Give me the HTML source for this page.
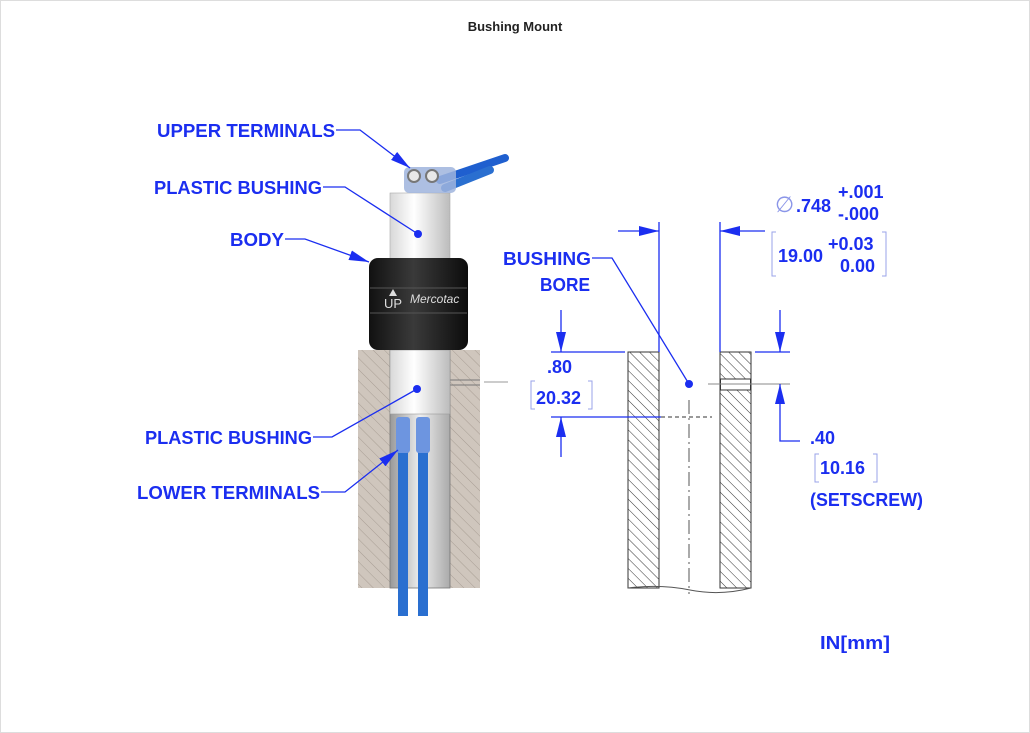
<!DOCTYPE html>
<html><head><meta charset="utf-8"><style>
html,body{margin:0;padding:0;background:#fff}
svg{display:block}
text{font-family:"Liberation Sans",sans-serif;font-weight:bold}
.l{fill:#1b2ef0;font-size:18px}
</style></head><body>
<svg width="1030" height="733" viewBox="0 0 1030 733" xmlns="http://www.w3.org/2000/svg">
<defs>
<pattern id="tan" width="8" height="8" patternUnits="userSpaceOnUse" patternTransform="rotate(-45)">
<rect width="8" height="8" fill="#cfc6bd"/><line x1="0" y1="0" x2="0" y2="8" stroke="#a89e94" stroke-width="1"/></pattern>
<pattern id="hat" width="7" height="7" patternUnits="userSpaceOnUse" patternTransform="rotate(-45)">
<rect width="7" height="7" fill="#fff"/><line x1="0" y1="0" x2="0" y2="7" stroke="#333" stroke-width="1"/></pattern>
<linearGradient id="wh" x1="0" x2="1"><stop offset="0" stop-color="#d8d8d8"/><stop offset=".4" stop-color="#fff"/><stop offset="1" stop-color="#bcbcbc"/></linearGradient>
<linearGradient id="bk" x1="0" x2="1"><stop offset="0" stop-color="#111"/><stop offset=".45" stop-color="#3a3a3a"/><stop offset="1" stop-color="#0c0c0c"/></linearGradient>
<linearGradient id="cav" x1="0" x2="1"><stop offset="0" stop-color="#999"/><stop offset=".5" stop-color="#eee"/><stop offset="1" stop-color="#aaa"/></linearGradient>
<marker id="ar2" markerWidth="20" markerHeight="10" refX="20" refY="5" orient="auto" markerUnits="userSpaceOnUse"><path d="M0,0L20,5L0,10z" fill="#1b2ef0"/></marker>
</defs>
<rect x="0.5" y="0.5" width="1029" height="732" fill="#fff" stroke="#ddd"/>
<text x="515" y="31" text-anchor="middle" style="font-size:13px" fill="#222">Bushing Mount</text>

<rect x="358" y="350" width="122" height="238" fill="url(#tan)"/>
<rect x="390" y="350" width="60" height="238" fill="url(#cav)" stroke="#777" stroke-width="0.8"/>
<line x1="447" y1="380" x2="480" y2="380" stroke="#777"/><line x1="447" y1="385" x2="480" y2="385" stroke="#777"/>
<line x1="484" y1="382" x2="508" y2="382" stroke="#999"/>
<rect x="398" y="420" width="10" height="196" fill="#2a6fd0"/>
<rect x="418" y="420" width="10" height="196" fill="#2a6fd0"/>
<rect x="396" y="417" width="14" height="36" rx="3" fill="#6d95e0"/>
<rect x="416" y="417" width="14" height="36" rx="3" fill="#6d95e0"/>
<rect x="390" y="350" width="60" height="64" fill="url(#wh)" stroke="#999" stroke-width="0.6"/>
<rect x="390" y="193" width="60" height="68" fill="url(#wh)" stroke="#aaa" stroke-width="0.6"/>
<path d="M440,180 L505,158" stroke="#1f5fcf" stroke-width="8" stroke-linecap="round"/>
<path d="M445,188 L490,170" stroke="#2a6fd0" stroke-width="8" stroke-linecap="round"/>
<rect x="404" y="167" width="52" height="26" rx="5" fill="#9fb4dd" opacity=".85"/>
<circle cx="414" cy="176" r="6" fill="#e8e8e8" stroke="#777" stroke-width="2"/>
<circle cx="432" cy="176" r="6" fill="#e8e8e8" stroke="#777" stroke-width="2"/>
<rect x="369" y="258" width="99" height="92" rx="9" fill="url(#bk)"/>
<line x1="370" y1="288" x2="467" y2="288" stroke="#555"/><line x1="370" y1="313" x2="467" y2="313" stroke="#555"/>
<text x="384" y="308" fill="#ddd" style="font-size:13px;font-weight:normal">UP</text>
<path d="M389,296 l4,-7 l4,7z" fill="#ddd"/>
<text x="410" y="303" fill="#ddd" style="font-size:12px;font-weight:normal;font-style:italic">Mercotac</text>

<g stroke="#1b2ef0" stroke-width="1.3" fill="none">
<path d="M336,130 L360,130 L410,168" marker-end="url(#ar2)"/>
<path d="M323,187 L345,187 L418,234"/>
<path d="M285,239 L305,239 L369,262" marker-end="url(#ar2)"/>
<path d="M313,437 L332,437 L417,389"/>
<path d="M321,492 L345,492 L398,450" marker-end="url(#ar2)"/>
</g>
<circle cx="418" cy="234" r="4" fill="#1b2ef0"/><circle cx="417" cy="389" r="4" fill="#1b2ef0"/>
<text class="l" x="157" y="137" textLength="178" lengthAdjust="spacingAndGlyphs">UPPER TERMINALS</text>
<text class="l" x="154" y="194" textLength="168" lengthAdjust="spacingAndGlyphs">PLASTIC BUSHING</text>
<text class="l" x="230" y="246" textLength="54" lengthAdjust="spacingAndGlyphs">BODY</text>
<text class="l" x="145" y="444" textLength="167" lengthAdjust="spacingAndGlyphs">PLASTIC BUSHING</text>
<text class="l" x="137" y="499" textLength="183" lengthAdjust="spacingAndGlyphs">LOWER TERMINALS</text>

<rect x="628" y="352" width="31" height="236" fill="url(#hat)" stroke="#333"/>
<rect x="720" y="352" width="31" height="236" fill="url(#hat)" stroke="#333"/>
<rect x="720.5" y="379" width="30" height="11" fill="#fff" stroke="#333"/>
<path d="M628,588 Q660,584 690,590 T751,588" stroke="#555" fill="none"/>
<line x1="689" y1="400" x2="689" y2="594" stroke="#555" stroke-dasharray="14,4,2,4"/>
<line x1="708" y1="384" x2="790" y2="384" stroke="#888"/>
<g stroke="#1b2ef0" stroke-width="1.3" fill="none">
<line x1="659" y1="222" x2="659" y2="352"/><line x1="720" y1="222" x2="720" y2="352"/>
<line x1="618" y1="231" x2="659" y2="231" marker-end="url(#ar2)"/>
<line x1="765" y1="231" x2="720" y2="231" marker-end="url(#ar2)"/>
<line x1="551" y1="352" x2="625" y2="352"/>
<line x1="561" y1="310" x2="561" y2="352" marker-end="url(#ar2)"/>
<line x1="551" y1="417" x2="661" y2="417"/>
<line x1="561" y1="457" x2="561" y2="417" marker-end="url(#ar2)"/>
<line x1="755" y1="352" x2="790" y2="352"/>
<line x1="780" y1="310" x2="780" y2="352" marker-end="url(#ar2)"/>
<path d="M800,441 L780,441 L780,384" marker-end="url(#ar2)"/>
<path d="M592,258 L612,258 L689,384"/>
</g>
<line x1="661" y1="417" x2="712" y2="417" stroke="#333" stroke-dasharray="4,3"/>
<circle cx="689" cy="384" r="4" fill="#1b2ef0"/>
<g stroke="#9aa3e8" stroke-width="1" fill="none">
<path d="M776,232 h-4 v44 h4"/><path d="M882,232 h4 v44 h-4"/>
<path d="M535,381 h-4 v28 h4"/><path d="M588,381 h4 v28 h-4"/>
<path d="M819,454 h-4 v28 h4"/><path d="M873,454 h4 v28 h-4"/>
</g>
<text x="775" y="212" fill="#8a95e8" style="font-size:22px;font-weight:normal">∅</text>
<text class="l" x="796" y="212">.748</text>
<text class="l" x="838" y="198">+.001</text>
<text class="l" x="838" y="220">-.000</text>
<text class="l" x="778" y="262">19.00</text>
<text class="l" x="828" y="250">+0.03</text>
<text class="l" x="840" y="272">0.00</text>
<text class="l" x="503" y="265" textLength="88" lengthAdjust="spacingAndGlyphs">BUSHING</text>
<text class="l" x="540" y="291" textLength="50" lengthAdjust="spacingAndGlyphs">BORE</text>
<text class="l" x="547" y="373">.80</text>
<text class="l" x="536" y="404">20.32</text>
<text class="l" x="810" y="444">.40</text>
<text class="l" x="820" y="474">10.16</text>
<text class="l" x="810" y="506" textLength="113" lengthAdjust="spacingAndGlyphs">(SETSCREW)</text>
<text class="l" x="820" y="649" textLength="70" lengthAdjust="spacingAndGlyphs">IN[mm]</text>
</svg>
</body></html>
